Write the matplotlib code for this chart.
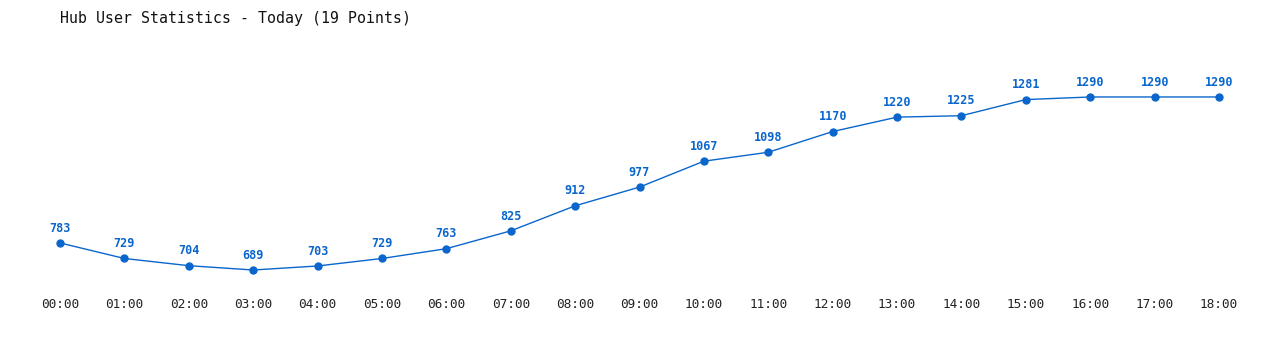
import numpy as np
import matplotlib.pyplot as plt

hours = ['00:00', '01:00', '02:00', '03:00', '04:00', '05:00', '06:00',
         '07:00', '08:00', '09:00', '10:00', '11:00', '12:00', '13:00',
         '14:00', '15:00', '16:00', '17:00', '18:00']
users = [783, 729, 704, 689, 703, 729, 763, 825, 912, 977, 1067, 1098,
         1170, 1220, 1225, 1281, 1290, 1290, 1290]

blue = '#0a66cc'

fig = plt.figure(figsize=(12.8, 3.5), dpi=100)
ax = fig.add_axes([0.046875, 0.1714, 0.9055, 0.6572])

x = np.arange(len(users))
ax.plot(x, users, color=blue, lw=1.0, marker='o', ms=5, zorder=3, clip_on=False)
for xi, v in zip(x, users):
    ax.annotate(str(v), (xi, v), xytext=(0, 6), textcoords='offset points',
                ha='center', va='bottom', color=blue, fontsize=8.5,
                fontweight='bold', family='DejaVu Sans Mono')

ax.set_xlim(0, 18)
ax.set_ylim(619.5, 1418.5)
ax.set_xticks(x)
ax.set_xticklabels(hours, family='DejaVu Sans Mono', fontsize=9.2, color='#222222')
ax.set_yticks([])
ax.tick_params(axis='x', length=0, pad=6)
for s in ax.spines.values():
    s.set_visible(False)

fig.text(60 / 1280, 1 - 18 / 350, 'Hub User Statistics - Today (19 Points)',
         family='DejaVu Sans Mono', fontsize=10.7, va='center', ha='left',
         color='#111111')

fig.savefig('out.png', dpi=100)
